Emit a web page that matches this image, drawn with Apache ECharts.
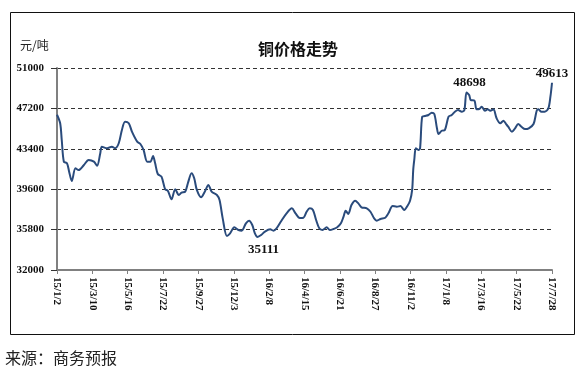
<!DOCTYPE html>
<html><head><meta charset="utf-8">
<script src="https://cdn.jsdelivr.net/npm/echarts@6/dist/echarts.min.js"></script>
<style>html,body{margin:0;padding:0;background:#fff}#c{width:585px;height:374px}</style>
</head><body><div id="c"></div>
<script>
const tickLabels = ['15/1/2','15/3/10','15/5/16','15/7/22','15/9/27','15/12/3','16/2/8','16/4/15','16/6/21','16/8/27','16/11/2','17/1/8','17/3/16','17/5/22','17/7/28'];
const yTicks = [32000, 35800, 39600, 43400, 47200, 51000];
// days since 2015-01-02
const dayOffsets = [0,6,9,13,19,23,28,35,41,51,60,70,76,82,85,95,104,110,117,123,129,136,142,152,158,164,171,177,182,186,191,198,205,210,217,224,231,236,243,248,255,260,265,273,280,287,293,303,308,314,322,328,336,344,350,358,364,370,375,380,387,394,404,410,416,424,435,445,452,460,467,473,479,485,491,497,503,511,517,524,531,538,543,547,552,558,565,571,577,587,594,601,606,613,622,628,636,644,651,658,664,669,673,675,677,680,685,688,692,697,704,710,715,720,723,729,735,742,748,754,760,767,772,776,781,784,791,795,800,805,811,816,821,827,833,840,846,851,855,862,868,874,880,887,894,903,909,912,918,924,931,935,938];
const prices = [46600,45800,44230,42190,42030,41250,40370,41570,41400,41880,42350,42190,41810,42980,43600,43450,43600,43450,43920,45170,45950,45800,45020,44070,43850,43290,42190,42190,42720,42030,41030,40780,39590,39460,38650,39590,39050,39270,39370,40160,41100,40630,39530,38840,39370,40000,39370,39050,38580,36860,35200,35450,36020,35760,35700,36390,36640,36230,35450,35111,35300,35610,35830,35700,35920,36540,37330,37800,37330,36900,36920,37480,37800,37640,36700,35920,35760,36020,35760,35860,36020,36390,37020,37570,37270,38110,38520,38270,37900,37800,37480,36860,36640,36800,36920,37330,38020,37950,38020,37640,38020,38520,39530,41400,42350,43450,43290,43450,46420,46480,46580,46800,46670,45330,44790,45100,45170,46420,46580,46890,47050,46890,47050,48698,48460,47990,47930,47110,47140,47360,46980,47110,46980,47110,46270,45800,46040,45730,45480,45010,45330,45730,45480,45260,45330,45730,46980,47110,46890,46890,47200,48300,49613];
const annotations = [
  {day: 380, position: 'bottom', offset: [6, 3]},
  {day: 776, position: 'top', offset: [3, 0]},
  {day: 938, position: 'top', offset: [0, 0]}
];
const tickStep = 67;

const seriesData = dayOffsets.map((d, i) => {
  const a = annotations.find(x => x.day === d);
  const item = {value: [d, prices[i]]};
  if (a) {
    item.label = {show: true, position: a.position, offset: a.offset, distance: 3,
      formatter: String(prices[i]), fontFamily: 'Liberation Serif', fontWeight: 'bold', fontSize: 13, color: '#111'};
  }
  return item;
});

const chart = echarts.init(document.getElementById('c'), null, {renderer: 'canvas'});
chart.setOption({
  backgroundColor: '#fff',
  animation: false,
  title: {
    text: '铜价格走势', left: 293, top: 36, textAlign: 'center',
    textStyle: {fontFamily: 'Noto Sans CJK SC', fontWeight: 'bold', fontSize: 16, color: '#111'}
  },
  graphic: [
    {type: 'rect', shape: {x: 10.5, y: 12.5, width: 564, height: 322}, style: {fill: 'none', stroke: '#111', lineWidth: 1}, z: -1},
    {type: 'text', left: 20, top: 39, style: {text: '元/吨', font: '12px "Noto Sans CJK SC"', fill: '#222'}},
    {type: 'text', left: 5, top: 350, style: {text: '来源：商务预报', font: '16px "Noto Sans CJK SC"', fill: '#222'}}
  ],
  grid: {left: 57, right: 33, top: 68, bottom: 104, containLabel: false},
  xAxis: {
    type: 'value', min: 0, max: tickStep * (tickLabels.length - 1), interval: tickStep,
    axisLine: {show: true, lineStyle: {color: '#808080', width: 2}},
    axisTick: {show: true, length: 4, lineStyle: {color: '#808080', width: 1}},
    splitLine: {show: false},
    axisLabel: {
      rotate: -90, margin: 7, fontFamily: 'Liberation Serif', fontWeight: 'bold', fontSize: 11, color: '#111',
      formatter: v => tickLabels[Math.round(v / tickStep)] || ''
    }
  },
  yAxis: {
    type: 'value', min: yTicks[0], max: yTicks[yTicks.length - 1], interval: yTicks[1] - yTicks[0],
    axisLine: {show: true, lineStyle: {color: '#808080', width: 2}},
    axisTick: {show: true, length: 6, lineStyle: {color: '#333', width: 1}},
    splitLine: {show: true, lineStyle: {color: '#333', type: [4, 3], width: 1}},
    axisLabel: {margin: 13, fontFamily: 'Liberation Serif', fontWeight: 'bold', fontSize: 11, color: '#111',
      formatter: v => String(v)}
  },
  series: [{
    type: 'line', data: seriesData, smooth: 0.3, showSymbol: true, symbol: 'circle', symbolSize: 0,
    itemStyle: {color: '#2a4b7c'},
    lineStyle: {color: '#2a4b7c', width: 2}, z: 3
  }]
});
</script></body></html>
